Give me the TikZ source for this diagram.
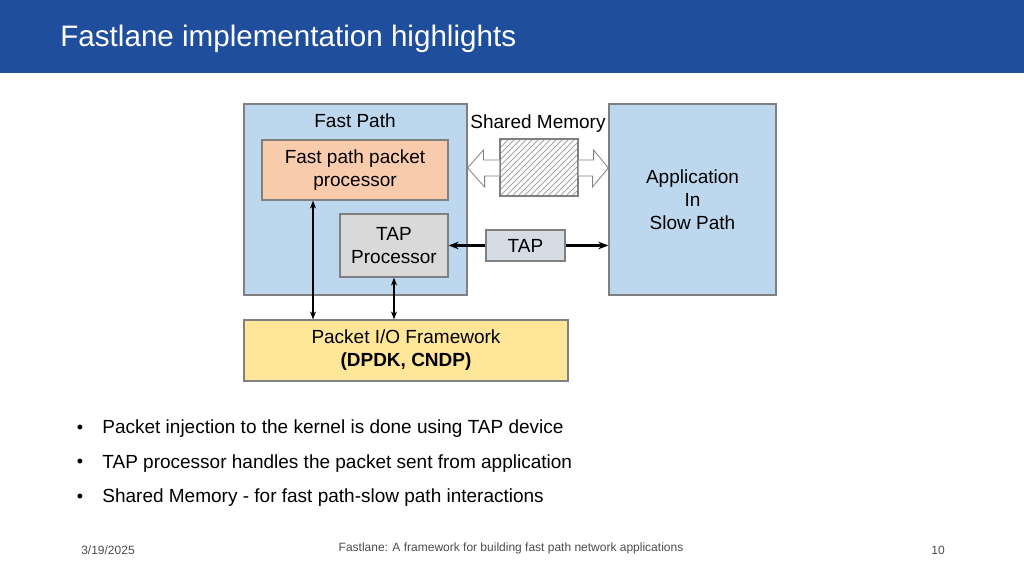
\documentclass[tikz,border=0pt]{standalone}
\usepackage{fontspec}
\setmainfont{Liberation Sans}
\usetikzlibrary{arrows.meta,positioning,calc,patterns}
\definecolor{hdrblue}{HTML}{1F4E9C}
\definecolor{pathblue}{HTML}{BDD7EE}
\definecolor{procpeach}{HTML}{F8CBAD}
\definecolor{tapgray}{HTML}{D9D9D9}
\definecolor{tapbox}{HTML}{D6DCE4}
\definecolor{ioyellow}{HTML}{FFE699}
\definecolor{edgegray}{HTML}{808080}
\tikzset{
  blk/.style={draw=edgegray, semithick, inner sep=0pt, align=center, font=\fontsize{9.5}{11.5}\selectfont},
  lbl/.style={inner sep=0pt, font=\fontsize{9.5}{11.5}\selectfont},
  bullet/.style={inner sep=0pt, anchor=west, font=\fontsize{9.5}{11.5}\selectfont},
  foot/.style={inner sep=0pt, text=black!70, font=\fontsize{6}{7}\selectfont},
  link/.style={{Stealth[length=4pt]}-{Stealth[length=4pt]}, semithick},
  taplink/.style={-{Stealth[length=5pt]}, line width=1.3pt},
  fat/.style={draw=edgegray, fill=white, thin}
}
\begin{document}
\begin{tikzpicture}[x=0.5pt, y=-0.5pt]
  \useasboundingbox (0,0) rectangle (1024,576);
  \fill[hdrblue] (0,0) rectangle (1024,73);
  \node (title) [anchor=west, inner sep=0pt, text=white, font=\fontsize{14.8}{17}\selectfont] at (60,39) {Fastlane implementation highlights};

  \node (fast) [blk, fill=pathblue, minimum width=111.5pt, minimum height=95.5pt] at (355.5,199.5) {};
  \node (fastlbl) [lbl] at (355,121) {Fast Path};
  \node (app) [blk, fill=pathblue, minimum width=83.5pt, minimum height=95.5pt] at (692.5,199.5) {Application\\In\\Slow Path};
  \node (fpp) [blk, fill=procpeach, minimum width=93pt, minimum height=30pt] at (355,170) {Fast path packet\\processor};
  \node (tapp) [blk, fill=tapgray, minimum width=54pt, minimum height=31.5pt] at (394,245.5) {TAP\\Processor};
  \node (tap) [blk, fill=tapbox, minimum width=39.5pt, minimum height=15.5pt] at (525.5,245.5) {TAP};
  \node (shm) [draw=edgegray, semithick, pattern=north east lines, pattern color=black!35, minimum width=39pt, minimum height=28.5pt, inner sep=0pt] at (539,167.5) {};
  \node (shmlbl) [lbl] at (538,124) {Shared Memory};
  \node (io) [blk, fill=ioyellow, minimum width=162pt, minimum height=30.5pt] at (406,350.5) {Packet I/O Framework\\\textbf{(DPDK, CNDP)}};

  % fat arrows to shared memory
  \draw[fat] (shm.west|-0,160) -- ++(-16,0) -- ++(0,-10) -- (fast.east|-0,168) -- ++(17,19) -- ++(0,-11) -- (shm.west|-0,176);
  \draw[fat] (shm.east|-0,160) -- ++(15,0) -- ++(0,-10) -- (app.west|-0,168) -- ++(-16,19) -- ++(0,-11) -- (shm.east|-0,176);

  \draw[taplink] (tap.west) -- (tapp.east);
  \draw[taplink] (tap.east) -- (app.west|-tap.east);
  \draw[link] (fpp.south-|313,0) -- (io.north-|313,0);
  \draw[link] (tapp.south) -- (io.north-|tapp.south);

  \foreach \i/\t in {0/Packet injection to the kernel is done using TAP device,
                     1/TAP processor handles the packet sent from application,
                     2/Shared Memory - for fast path-slow path interactions}{
    \node (b\i) [inner sep=0pt, font=\fontsize{9}{10}\selectfont] at (80,429+34.5*\i) {\textbullet};
    \node (t\i) [bullet] at (102,429+34.5*\i) {\t};
  }

  \node (date) [foot] at (108,550) {3/19/2025};
  \node (ftitle) [foot] at (511,548) {Fastlane: A framework for building fast path network applications};
  \node (page) [foot] at (938,550) {10};
\end{tikzpicture}
\end{document}
